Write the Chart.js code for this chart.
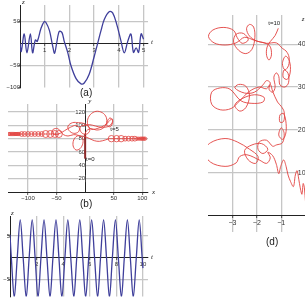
<!DOCTYPE html>
<html>
<head>
<meta charset="utf-8">
<script src="https://cdn.jsdelivr.net/npm/chart.js@4.4.1/dist/chart.umd.min.js"></script>
<style>
  html, body { margin: 0; padding: 0; background: #fff; }
  body { width: 305px; height: 301px; overflow: hidden; position: relative; font-family: "Liberation Sans", Arial, sans-serif; }
  canvas { position: absolute; }
  .tag { position: absolute; font-size: 10px; line-height: 10px; color: #222; }
</style>
</head>
<body>
<canvas id="chartA" width="158" height="92" style="left:0;top:0"></canvas>
<canvas id="chartB" width="160" height="104" style="left:0;top:98px"></canvas>
<canvas id="chartC" width="160" height="91" style="left:0;top:210px"></canvas>
<canvas id="chartD" width="110" height="232" style="left:200px;top:8px"></canvas>
<div class="tag" style="left:80px;top:88px">(a)</div>
<div class="tag" style="left:80px;top:199px">(b)</div>
<div class="tag" style="left:266px;top:237px">(d)</div>
<script>
// (a) z against t
const aTime = [0, 0.05, 0.17, 0.28, 0.42, 0.51, 0.62, 0.7, 0.85, 0.98, 1.05, 1.19, 1.32, 1.4, 1.48, 1.59, 1.7, 1.79, 1.93, 2.06, 2.27, 2.47, 2.6, 2.8, 3.0, 3.14, 3.28, 3.41, 3.62, 3.75, 3.91, 4.09, 4.22, 4.36, 4.49, 4.59, 4.7, 4.8, 4.9, 5.0];
const aZ = [0, -18, 22, -21, 22, -21, 8, 5, 35, 50, 48, 30, -5, -22, 0, 28, 25, 5, -20, -50, -80, -92, -90, -70, -30, 0, 30, 55, 73, 70, 45, 5, -21, 5, 22, -20, -10, -20, 22, 10];

// (b) trajectory in the x-y plane
const bStart = [[0, 50], [0, 70], [0, 87]];
const bLoops = [
  [0, 87], [1, 90], [4, 93], [10, 95], [20, 93], [30, 95], [37, 102], [37, 112], [30, 119], [19, 121], [9, 116], [4, 107], [6, 98], [12, 94],
  [24, 96], [34, 100], [42, 106], [47, 110], [48, 104], [44, 98], [38, 100], [40, 108], [44, 111], [48, 106],
  [42, 99], [30, 97], [18, 99], [8, 101], [0, 100],
  [-7, 99], [-9, 94], [-5, 88], [3, 87], [8, 92], [5, 99], [-3, 103],
  [-12, 104], [-22, 104], [-30, 99], [-28, 92], [-20, 88], [-12, 90], [-10, 96], [-16, 100], [-26, 97], [-36, 92], [-44, 88], [-52, 86], [-58, 89], [-56, 94], [-48, 95], [-42, 90], [-38, 86],
  [-30, 84], [-20, 86], [-12, 85], [-5, 82], [-4, 73], [-9, 65], [-16, 63], [-21, 69], [-20, 78], [-14, 84], [-6, 84],
  [0, 83], [8, 80], [16, 77], [25, 76], [35, 78], [42, 80]
];
const leftChainLevel = 87;
const leftChainSmall = [-133, -131, -129, -127, -125, -123, -121, -119, -117, -115];
const leftChainMid = [-111, -106, -100, -94, -88, -82, -76];
const leftChainLarge = [-69, -61, -53, -46];
const rightChainLevel = 80;
const rightChainLarge = [46, 55, 63];
const rightChainMid = [70, 76, 82, 87];
const rightChainSmall = [91, 94, 97, 99, 101, 103, 105];

// (c) z against t
const cTime = [0, 0.1, 0.32, 0.545, 0.77, 0.99, 1.22, 1.44, 1.67, 1.89, 2.11, 2.33, 2.56, 2.78, 3.01, 3.23, 3.46, 3.68, 3.9, 4.13, 4.35, 4.57, 4.8, 5.02, 5.25, 5.47, 5.69, 5.92, 6.14, 6.36, 6.59, 6.81, 7.04, 7.26, 7.48, 7.7, 7.93, 8.15, 8.38, 8.6, 8.83, 9.05, 9.27, 9.5, 9.72, 9.94, 10.0];
const cZ = [5.3, 0, -9, 0, 8.7, 0, -9, 0, 8.7, 0, -9, 0, 8.7, 0, -9, 0, 8.7, 0, -9, 0, 8.7, 0, -9, 0, 8.7, 0, -9, 0, 8.7, 0, -9, 0, 8.7, 0, -9, 0, 8.7, 0, -9, 0, 8.7, 0, -9, 0, 8.7, 0, -2.4];

// (d) trajectory, from t=10 downwards
const dPath = [
  [-1.12, 43.7], [-1.25, 42.0], [-1.45, 40.6],
  [-1.58, 39.3], [-1.6, 37.4], [-1.5, 36.3], [-1.4, 37.5], [-1.47, 39.6],
  [-1.75, 40.4], [-2.0, 40.7], [-2.3, 41.9], [-2.42, 43.6], [-2.3, 44.6], [-2.13, 44.0], [-2.08, 41.5], [-2.2, 38.8], [-2.45, 37.8], [-2.75, 38.6], [-2.95, 40.5], [-2.85, 42.3], [-2.55, 42.5], [-2.35, 41.0],
  [-2.6, 40.2], [-2.8, 41.5], [-2.95, 43.2], [-3.35, 43.9], [-3.8, 43.3], [-3.98, 41.8], [-3.75, 40.3], [-3.3, 39.8], [-2.85, 40.3], [-2.5, 41.6],
  [-2.1, 40.9], [-1.6, 40.2], [-1.2, 40.3], [-0.95, 39.0],
  [-0.8, 38.4], [-0.68, 37.0], [-0.7, 35.0], [-0.85, 34.0], [-0.95, 35.5], [-0.82, 37.2], [-0.66, 36.0], [-0.63, 33.5], [-0.75, 31.8], [-0.92, 32.3], [-0.88, 34.0], [-0.72, 33.2], [-0.7, 31.0], [-0.85, 30.0],
  [-1.05, 30.5], [-1.1, 32.5], [-1.2, 33.3], [-1.3, 32.3], [-1.25, 30.0], [-1.35, 28.8], [-1.5, 29.5], [-1.45, 31.0], [-1.6, 31.5],
  [-1.75, 30.5], [-2.1, 28.8], [-2.5, 28.6], [-2.9, 29.8], [-2.75, 30.6], [-2.45, 30.2], [-2.3, 28.0], [-2.45, 25.2], [-2.7, 24.4], [-2.9, 25.8], [-2.6, 27.3], [-2.1, 28.2], [-1.7, 27.6], [-1.75, 26.5], [-2.2, 26.2], [-2.65, 26.8],
  [-3.1, 29.5], [-3.5, 29.8], [-3.85, 28.8], [-3.85, 26.0], [-3.5, 24.7], [-3.05, 25.0], [-2.75, 26.5],
  [-2.3, 29.0], [-1.9, 30.0], [-1.6, 29.6], [-1.45, 30.6], [-1.35, 29.0], [-1.15, 26.5], [-1.0, 25.5], [-0.88, 24.2], [-0.9, 22.0], [-1.05, 21.8], [-1.05, 23.5], [-0.9, 23.8], [-0.8, 21.5], [-0.82, 19.0], [-0.95, 17.8], [-1.1, 18.8], [-1.0, 20.5], [-0.88, 19.2], [-0.95, 17.0], [-1.2, 16.5],
  [-1.35, 16.2], [-1.6, 17.6], [-1.9, 17.2], [-1.95, 15.5], [-1.75, 14.5], [-1.55, 15.5], [-1.8, 16.8], [-2.2, 16.5], [-2.5, 15.2], [-2.35, 13.0], [-2.05, 12.2], [-1.95, 13.8], [-2.3, 15.5], [-2.8, 17.2], [-3.3, 18.0], [-3.9, 17.0], [-4.15, 15.0], [-3.9, 12.5], [-3.3, 11.5], [-2.85, 12.3], [-2.7, 13.8],
  [-2.4, 14.2], [-1.9, 13.0], [-1.6, 12.2], [-1.45, 13.5], [-1.55, 14.8], [-1.35, 14.0], [-1.2, 12.0],
  [-1.1, 9.8], [-1.02, 11.5], [-0.9, 13.0], [-0.8, 11.5], [-0.72, 9.5], [-0.62, 8.0], [-0.5, 6.8], [-0.42, 9.5], [-0.35, 10.5], [-0.28, 8.5], [-0.22, 6.5], [-0.15, 5.0], [-0.1, 7.5], [-0.05, 6.5], [0.0, 3.0], [0.05, 1.0]
];

const BLUE = "#3f3f9b";
const RED = "#e2423f";
const GRID = "#c6c6c6";
const AXIS_NAME = 'italic 7px "Liberation Serif"';
const NOTE_FONT = '6px "Liberation Sans"';

const zip = (xs, ys) => xs.map((x, i) => ({ x, y: ys[i] }));
const pairs = list => list.map(p => ({ x: p[0], y: p[1] }));
const level = (xs, y) => xs.map(x => ({ x, y }));
const minus = v => String(v).replace("-", "\u2212");

// text at data positions, e.g. axis names and t=... marks
function notes(items) {
  return {
    id: "notes",
    afterDraw(chart) {
      const { ctx, scales } = chart;
      items.forEach(it => {
        ctx.save();
        ctx.font = it.font || NOTE_FONT;
        ctx.fillStyle = "#222";
        ctx.textAlign = it.align || "left";
        ctx.textBaseline = "middle";
        ctx.fillText(it.text, scales.x.getPixelForValue(it.x) + (it.dx || 0), scales.y.getPixelForValue(it.y) + (it.dy || 0));
        ctx.restore();
      });
    }
  };
}

function axis(min, max, at, ticks, hideGrid, fontSize, fit, backdrop) {
  return {
    type: "linear", min, max, position: at,
    afterBuildTicks: a => { a.ticks = ticks.map(v => ({ value: v })); },
    afterFit: fit,
    grid: {
      color: c => (c.tick && hideGrid.includes(c.tick.value)) ? "rgba(0,0,0,0)" : GRID,
      lineWidth: 1.3, tickLength: 2, tickColor: "#333", tickWidth: 0.8
    },
    border: { color: "#222", width: 1 },
    ticks: {
      font: { family: "Liberation Sans", size: fontSize }, color: "#333", padding: 1, maxRotation: 0, autoSkip: false, callback: minus,
      showLabelBackdrop: backdrop, backdropColor: "#fff", backdropPadding: 0
    }
  };
}

function frame(o) {
  return {
    x: axis(o.xMin, o.xMax, { y: 0 }, o.xTicks, o.xHide || [], o.size || 6, a => { a.height = 0; }, false),
    y: axis(o.yMin, o.yMax, { x: 0 }, o.yTicks, o.yHide || [], o.size || 6, a => { a.width = 0; }, !!o.yBackdrop)
  };
}

function line(data, color, width) {
  return { data, showLine: true, borderColor: color, borderWidth: width, pointRadius: 0, tension: 0.35, fill: false };
}

function rings(data, r) {
  return { data, showLine: false, pointStyle: "circle", pointRadius: r, borderColor: RED, borderWidth: 0.8, backgroundColor: "rgba(0,0,0,0)" };
}

function plot(id, datasets, scales, padding, items) {
  return new Chart(document.getElementById(id), {
    type: "scatter",
    data: { datasets },
    options: {
      responsive: false, animation: false, events: [],
      layout: { padding },
      plugins: { legend: { display: false }, tooltip: { enabled: false } },
      scales
    },
    plugins: [notes(items)]
  });
}

plot("chartA",
  [line(zip(aTime, aZ), BLUE, 1.3)],
  frame({ xMin: 0, xMax: 5.18, yMin: -100, yMax: 88, xTicks: [1, 2, 3, 4, 5], yTicks: [50, -50, -100], yHide: [-100] }),
  { left: 20, right: 10, top: 5, bottom: 4 },
  [
    { text: "z", x: 0, y: 88, dx: 2, dy: -3, font: AXIS_NAME },
    { text: "t", x: 5.18, y: 0, dx: 3, dy: -1, font: AXIS_NAME }
  ]);

plot("chartB",
  [
    line(pairs(bLoops), RED, 0.9),
    line(level([-135, -46], leftChainLevel), RED, 0.8),
    line(level([42, 106], rightChainLevel), RED, 0.8),
    rings(level(leftChainSmall, leftChainLevel), 1.6),
    rings(level(leftChainMid, leftChainLevel), 2.4),
    rings(level(leftChainLarge, leftChainLevel), 3.5),
    rings(level(rightChainLarge, rightChainLevel), 3.2),
    rings(level(rightChainMid, rightChainLevel), 2.4),
    rings(level(rightChainSmall, rightChainLevel), 1.6),
    line(pairs(bStart), "#8e2a2a", 2)
  ],
  frame({ xMin: -135, xMax: 110, yMin: 0, yMax: 132, xTicks: [-100, -50, 50, 100], yTicks: [20, 40, 60, 80, 100, 120], yBackdrop: true }),
  { left: 8, right: 12, top: 6, bottom: 10 },
  [
    { text: "y", x: 0, y: 132, dx: 3, dy: -3, font: AXIS_NAME },
    { text: "x", x: 110, y: 0, dx: 4, dy: 0, font: AXIS_NAME },
    { text: "t=0", x: 1.7, y: 49 },
    { text: "t=5", x: 44, y: 94 }
  ]);

plot("chartC",
  [line(zip(cTime, cZ), BLUE, 1.3)],
  frame({ xMin: 0, xMax: 10.38, yMin: -8.9, yMax: 9.6, xTicks: [2, 4, 6, 8, 10], yTicks: [5, -5] }),
  { left: 10, right: 12, top: 6, bottom: 0 },
  [
    { text: "z", x: 0, y: 9.6, dx: 1, dy: -3, font: AXIS_NAME },
    { text: "t", x: 10.38, y: 0, dx: 3, dy: -1, font: AXIS_NAME }
  ]);

plot("chartD",
  [line(pairs(dPath), RED, 0.9)],
  frame({ xMin: -4, xMax: 0.18, yMin: -3.8, yMax: 46.8, xTicks: [-3, -2, -1], yTicks: [10, 20, 30, 40], size: 7, yBackdrop: true }),
  { left: 8, right: 0, top: 7, bottom: 8 },
  [
    { text: "z", x: 0, y: 46.8, dx: -2.5, dy: 4, align: "center", font: AXIS_NAME },
    { text: "t=10", x: -1.53, y: 44.9 }
  ]);
</script>
</body>
</html>
